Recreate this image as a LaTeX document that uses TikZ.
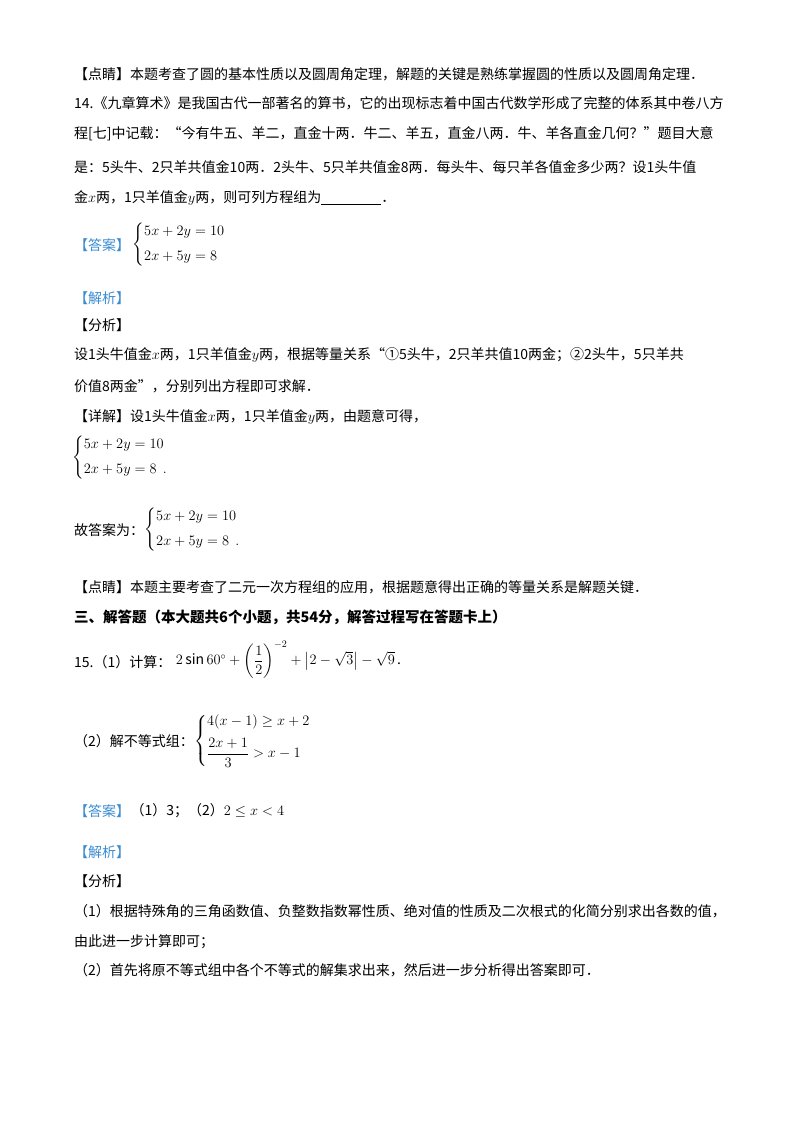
\documentclass[tikz,border=0pt]{standalone}
\usepackage{amsmath}
\usepackage{fontspec}
\setmainfont{Noto Sans CJK SC}
\usepackage{tikz}
\usetikzlibrary{positioning}
\definecolor{tagblue}{HTML}{3A8CD0}
\begin{document}
\begin{tikzpicture}[x=1pt,y=-1pt,
                txt/.style={anchor=west, inner sep=0pt, font=\fontsize{14}{16}\selectfont},
                tag/.style={txt, text=tagblue},
                head/.style={txt, font=\fontsize{14.5}{16}\bfseries\selectfont},
            ]
            \useasboundingbox (0,0) rectangle (800,1132);
            % Question 14
            \node[txt]  (dj_a)   at (74,74)  {【点睛】本题考查了圆的基本性质以及圆周角定理，解题的关键是熟练掌握圆的性质以及圆周角定理．};
            \node[txt]  (q14_a)  at (74,103) {14.《九章算术》是我国古代一部著名的算书，它的出现标志着中国古代数学形成了完整的体系其中卷八方};
            \node[txt]  (q14_b)  at (74,134) {程[七]中记载：“今有牛五、羊二，直金十两．牛二、羊五，直金八两．牛、羊各直金几何？”题目大意};
            \node[txt]  (q14_c)  at (74,167) {是：5头牛、2只羊共值金10两．2头牛、5只羊共值金8两．每头牛、每只羊各值金多少两？设1头牛值};
            \node[txt]  (q14_d)  at (74,198) {金$x$两，1只羊值金$y$两，则可列方程组为\underline{\hspace{60pt}}．};
            \node[tag]  (ans14)  at (74,245) {【答案】};
            \node[txt]  (sys14)  [right=2pt of ans14] {$\left\{\begin{aligned}&5x+2y=10\\[6pt]&2x+5y=8\end{aligned}\right.$};
            \node[tag]  (jx14)   at (74,298) {【解析】};
            \node[txt]  (fx14)   at (74,325) {【分析】};
            \node[txt]  (fx14_a) at (74,355) {设1头牛值金$x$两，1只羊值金$y$两，根据等量关系“①5头牛，2只羊共值10两金；②2头牛，5只羊共};
            \node[txt]  (fx14_b) at (74,386) {价值8两金”，分别列出方程即可求解．};
            \node[txt]  (xj14)   at (74,417) {【详解】设1头牛值金$x$两，1只羊值金$y$两，由题意可得，};
            \node[txt]  (sys14b) at (72,458) {$\left\{\begin{aligned}&5x+2y=10\\[6pt]&2x+5y=8\ \ .\end{aligned}\right.$};
            \node[txt]  (gd14)   at (74,530) {故答案为：};
            \node[txt]  (sys14c) [right=0pt of gd14] {$\left\{\begin{aligned}&5x+2y=10\\[6pt]&2x+5y=8\ \ .\end{aligned}\right.$};
            \node[txt]  (dj14)   at (74,587) {【点睛】本题主要考查了二元一次方程组的应用，根据题意得出正确的等量关系是解题关键．};
            % Part three
            \node[head] (part3)  at (74,617) {三、解答题（本大题共6个小题，共54分，解答过程写在答题卡上）};
            \node[txt]  (q15_a)  at (74,662) {15.（1）计算：};
            \node[txt]  (expr15) [right=4pt of q15_a, yshift=2pt] {$2\sin60^\circ+\left(\dfrac{1}{2}\right)^{-2}+\left|2-\sqrt{3}\right|-\sqrt{9}$\,.};
            \node[txt]  (q15_b)  at (74,741) {（2）解不等式组：};
            \node[txt]  (sys15)  [right=0pt of q15_b] {$\left\{\begin{aligned}&4(x-1)\ge x+2\\[4pt]&\dfrac{2x+1}{3}>x-1\end{aligned}\right.$};
            \node[tag]  (ans15)  at (74,811) {【答案】};
            \node[txt]  (ans15v) [right=0pt of ans15] {（1）3；（2）$2\le x<4$};
            \node[tag]  (jx15)   at (74,852) {【解析】};
            \node[txt]  (fx15)   at (74,881) {【分析】};
            \node[txt]  (fx15_a) at (74,911) {（1）根据特殊角的三角函数值、负整数指数幂性质、绝对值的性质及二次根式的化简分别求出各数的值，};
            \node[txt]  (fx15_b) at (74,942) {由此进一步计算即可；};
            \node[txt]  (fx15_c) at (74,970) {（2）首先将原不等式组中各个不等式的解集求出来，然后进一步分析得出答案即可．};
        \end{tikzpicture}
\end{document}
